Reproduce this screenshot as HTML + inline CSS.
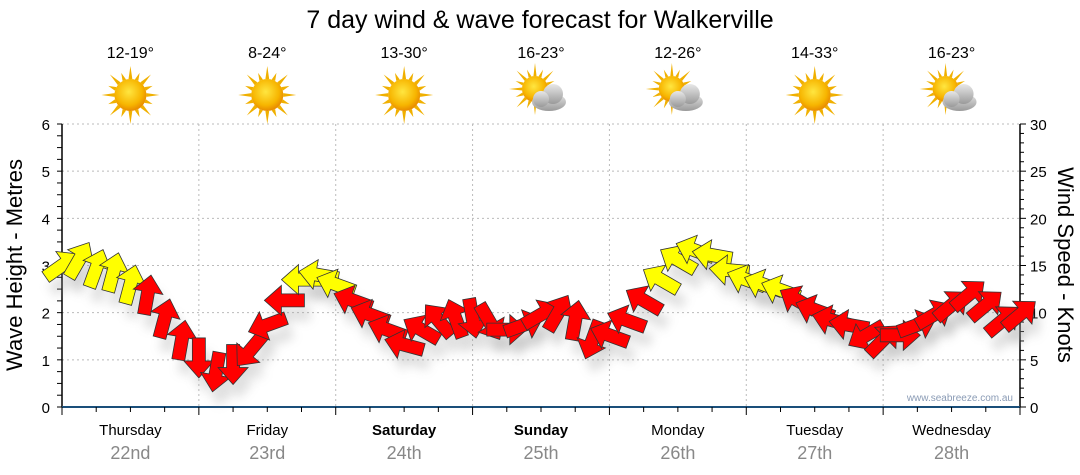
<!DOCTYPE html>
<html><head><meta charset="utf-8">
<style>
html,body{margin:0;padding:0;background:#fff;}
svg{display:block;font-family:"Liberation Sans","DejaVu Sans",sans-serif;}
</style></head>
<body>
<svg id="chart" width="1080" height="475" viewBox="0 0 1080 475" xmlns="http://www.w3.org/2000/svg">
<defs>
<filter id="sh" x="-50%" y="-50%" width="200%" height="200%"><feGaussianBlur stdDeviation="5"/></filter>
<radialGradient id="sunG" cx="45%" cy="40%" r="60%"><stop offset="0" stop-color="#ffe640"/><stop offset="0.7" stop-color="#f7b500"/><stop offset="1" stop-color="#e88a00"/></radialGradient>
<linearGradient id="cloudG" x1="0" y1="0" x2="0" y2="1"><stop offset="0" stop-color="#e8e8e8"/><stop offset="1" stop-color="#9a9a9a"/></linearGradient>
</defs>
<text x="540" y="28" font-size="25" text-anchor="middle" fill="#000">7 day wind &amp; wave forecast for Walkerville</text>
<g id="grid"></g>
<g id="axes"></g>
<g id="weather"></g>
<g id="shadows"></g>
<g id="arrows"></g>
<text x="1013" y="401" font-size="10" text-anchor="end" fill="#8a9bb5">www.seabreeze.com.au</text>
<text transform="translate(22,265) rotate(-90)" font-size="22" text-anchor="middle" fill="#000">Wave Height - Metres</text>
<text transform="translate(1058,265) rotate(90)" font-size="22" text-anchor="middle" fill="#000">Wind Speed - Knots</text>
</svg>
<script>
const days = ["Thursday","Friday","Saturday","Sunday","Monday","Tuesday","Wednesday"];
const dates = ["22nd","23rd","24th","25th","26th","27th","28th"];
const boldDays = [false,false,true,true,false,false,false];
const temps = ["12-19°","8-24°","13-30°","16-23°","12-26°","14-33°","16-23°"];
const cloudy = [false,false,false,true,true,false,true];
const waveTicks = [0,1,2,3,4,5,6];
const windTicks = [0,5,10,15,20,25,30];
// wind every 3 hours from Thursday 00:00
const windSpeed = [15,15.6,14.7,14.3,13,11.9,9.4,7.1,5.2,3.7,4.5,6,8.7,11.3,13.5,14,13,11.3,9.8,8.2,6.6,8.2,9.2,9.4,9.4,9,8.2,8.7,9.8,10,9.2,7.1,7.6,9.2,11.3,13.5,15.6,16.6,16.1,14.5,13.5,13,12.4,11.3,10.3,9.2,8.7,7.6,7.1,7.6,8.7,9.8,10.8,11.9,10.8,9.2,9.8];
const windDir = [-35,-60,-70,-75,-75,-80,-75,-80,90,100,90,130,160,180,180,190,200,200,200,200,195,210,230,250,80,60,0,-20,-30,-60,-80,110,200,200,210,210,210,200,190,185,200,200,200,210,200,195,190,150,-45,0,-20,-30,-40,-40,-40,-40,-40];

const X0=62, X1=1020, Y0=407, Y1=124, HOURS=168, STEP=3;
const xT = t => X0 + t*(X1-X0)/HOURS;
const yWave = m => Y0 - m*(Y0-Y1)/6;
const yWind = k => Y0 - k*(Y0-Y1)/30;
const NS="http://www.w3.org/2000/svg";
function mk(tag, attrs, parent){const e=document.createElementNS(NS,tag);for(const k in attrs)e.setAttribute(k,attrs[k]);parent.appendChild(e);return e;}

const grid=document.getElementById('grid'), axes=document.getElementById('axes');
waveTicks.forEach(v=>{ if(v>0){
  const gl=mk('line',{x1:X0,x2:X1,y1:yWave(v),y2:yWave(v),stroke:'#bbb','stroke-dasharray':'2,3'},grid);
  
  }
  const t=mk('text',{x:50,y:yWave(v)+6,'font-size':15,'text-anchor':'end'},axes);t.textContent=v;
  
  
});
windTicks.forEach(v=>{
  const t=mk('text',{x:1030,y:yWind(v)+6,'font-size':15},axes);t.textContent=v;
  
  
});
for(let m=0;m<=24;m++){const y=yWave(m/4);mk('line',{x1:X0-5,x2:X0,y1:y,y2:y,stroke:'#000'},axes);}
for(let k=0;k<=30;k++){const y=yWind(k);mk('line',{x1:X1,x2:X1+(k%5?4:6),y1:y,y2:y,stroke:'#000'},axes);}
mk('line',{x1:X0,x2:X0,y1:Y1,y2:Y0,stroke:'#000','stroke-width':1.5},axes);
mk('line',{x1:X1,x2:X1,y1:Y1,y2:Y0,stroke:'#000','stroke-width':1.5},axes);
mk('line',{x1:X0,x2:X1,y1:Y0,y2:Y0,stroke:'#1a4f7a','stroke-width':2},axes);
for(let h=0;h<=HOURS;h+=6){const x=xT(h);mk('line',{x1:x,x2:x,y1:Y0,y2:Y0+(h%24?5:8),stroke:'#000'},axes);}
days.forEach((d,i)=>{
  const cx=xT(i*24+12);
  if(i>0){const vl=mk('line',{x1:xT(i*24),x2:xT(i*24),y1:Y1,y2:Y0,stroke:'#bbb','stroke-dasharray':'2,3'},grid);
    
    }
  const a=mk('text',{x:cx,y:435,'font-size':15,'text-anchor':'middle','font-weight':boldDays[i]?'bold':'normal'},axes);a.textContent=d;
  
  
  const b=mk('text',{x:cx,y:459,'font-size':18,'text-anchor':'middle',fill:'#888'},axes);b.textContent=dates[i];
  
  
  const w=document.getElementById('weather');
  const tt=mk('text',{x:cx,y:58,'font-size':16,'text-anchor':'middle'},w);tt.textContent=temps[i];
  
  
  const g=mk('g',{},w);
  
  
  const sx=cloudy[i]?cx-6:cx, sy=cloudy[i]?89:95, sr=cloudy[i]?13:16;
  for(let r=0;r<16;r++){const ang=r*Math.PI/8, L=(r%2?sr+8:sr+13);
    const a1=ang-0.12,a2=ang+0.12;
    mk('polygon',{points:`${sx+Math.cos(a1)*sr},${sy+Math.sin(a1)*sr} ${sx+Math.cos(ang)*L},${sy+Math.sin(ang)*L} ${sx+Math.cos(a2)*sr},${sy+Math.sin(a2)*sr}`,fill:'#f0b000'},g);}
  mk('circle',{cx:sx,cy:sy,r:sr,fill:'url(#sunG)'},g);
  if(cloudy[i]){
    mk('ellipse',{cx:cx+8,cy:102,rx:17,ry:9,fill:'url(#cloudG)'},g);
    mk('circle',{cx:cx+12,cy:94,r:10,fill:'url(#cloudG)'},g);
    mk('circle',{cx:cx,cy:99,r:8,fill:'url(#cloudG)'},g);
  }
});

const arrG=document.getElementById('arrows'), shG=document.getElementById('shadows');
const shape="-20,-6.5 3,-6.5 3,-15 20,0 3,15 3,6.5 -20,6.5";
windSpeed.forEach((k,i)=>{
  const x=xT(i*STEP), y=yWind(k);
  const s=mk('polygon',{points:shape,fill:'#999',opacity:0.3,filter:'url(#sh)',transform:`translate(${x+6},${y+14}) rotate(${windDir[i]})`},shG);
  
  
  const p=mk('polygon',{points:shape,fill:k>=12?'#ffff00':'#ff0000',stroke:'#333','stroke-width':0.8,transform:`translate(${x},${y}) rotate(${windDir[i]})`},arrG);
  
  
});
</script>
</body></html>
